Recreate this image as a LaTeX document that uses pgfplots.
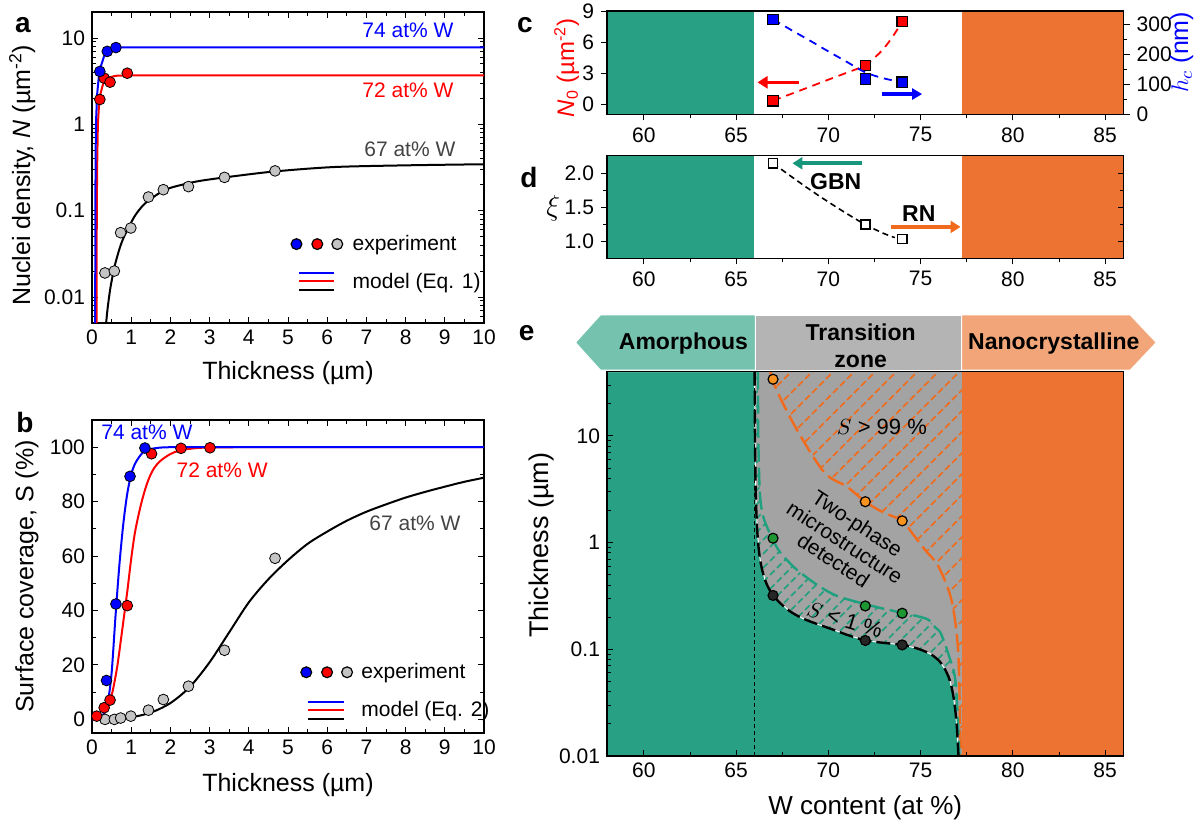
\documentclass[border=0pt]{standalone}
\usepackage{fontspec}
\setmainfont{Liberation Sans}
\usepackage{pgfplots}
\pgfplotsset{compat=1.18}
\usetikzlibrary{arrows.meta,patterns}

\definecolor{bandgreen}{HTML}{28A084}
\definecolor{bandorange}{HTML}{EC7332}
\definecolor{hdrgreen}{HTML}{75C3AE}
\definecolor{hdrgray}{HTML}{B4B4B4}
\definecolor{hdrorange}{HTML}{F2A578}
\definecolor{zonegray}{HTML}{A3A3A3}
\definecolor{mgray}{HTML}{C4C4C4}
\definecolor{labgray}{HTML}{444444}
\definecolor{hatchgreen}{HTML}{1FA07E}
\definecolor{hatchorange}{HTML}{F26A1B}
\definecolor{ptgreen}{HTML}{1E9632}
\definecolor{ptorange}{HTML}{F7931E}
\definecolor{arrgreen}{HTML}{16967A}

% dashed diagonal hatching
\pgfdeclarepatternformonly{hatchwide}{\pgfqpoint{-1pt}{-1pt}}{\pgfqpoint{12pt}{12pt}}{\pgfqpoint{10.5pt}{10.5pt}}{%
  \pgfsetlinewidth{0.8pt}%
  \pgfpathmoveto{\pgfqpoint{0pt}{0pt}}\pgfpathlineto{\pgfqpoint{2.4pt}{2.4pt}}%
  \pgfpathmoveto{\pgfqpoint{3.5pt}{3.5pt}}\pgfpathlineto{\pgfqpoint{5.9pt}{5.9pt}}%
  \pgfpathmoveto{\pgfqpoint{7pt}{7pt}}\pgfpathlineto{\pgfqpoint{9.4pt}{9.4pt}}%
  \pgfusepath{stroke}}
\pgfdeclarepatternformonly{hatchnarrow}{\pgfqpoint{-1pt}{-1pt}}{\pgfqpoint{8pt}{8pt}}{\pgfqpoint{7pt}{7pt}}{%
  \pgfsetlinewidth{0.8pt}%
  \pgfpathmoveto{\pgfqpoint{0pt}{0pt}}\pgfpathlineto{\pgfqpoint{2.3pt}{2.3pt}}%
  \pgfpathmoveto{\pgfqpoint{3.5pt}{3.5pt}}\pgfpathlineto{\pgfqpoint{5.8pt}{5.8pt}}%
  \pgfusepath{stroke}}

\pgfplotsset{
  base/.style={scale only axis, anchor=south west,
    axis line style={line width=0.6pt},
    every tick/.style={black, line width=0.5pt},
    major tick length=3pt, minor tick length=1.8pt,
    /pgf/number format/assume math mode=true,
    tick label style={font=\fontsize{10.5}{12}\selectfont},
    xlabel style={font=\fontsize{12.5}{14}\selectfont},
    ylabel style={font=\fontsize{12.5}{14}\selectfont}},
  strip/.style={base, at={(303.5pt,#1)}, width=258.3pt, xmin=58, xmax=86,
    xlabel style={font=\fontsize{13}{14}\selectfont},
    ylabel style={font=\fontsize{13.5}{14}\selectfont}},
  expt/.style={only marks, mark=*, mark size=2.7pt, mark options={draw=black, line width=0.6pt}},
}

\begin{document}
\begin{tikzpicture}[x=1pt,y=1pt]
\path[use as bounding box] (0pt,0pt) rectangle (601.5pt,413.5pt);

% ---------------- panel a
\begin{axis}[base, at={(46pt,252pt)}, width=196pt, height=155.5pt,
  xmin=0, xmax=10, ymode=log, ymin=0.005, ymax=20,
  xtick={0,...,10}, minor x tick num=1,
  ytick={0.01,0.1,1,10}, yticklabels={0.01,0.1,1,10},
  minor ytick={0.006,0.007,0.008,0.009,0.02,0.03,0.04,0.05,0.06,0.07,0.08,0.09,0.2,0.3,0.4,0.5,0.6,0.7,0.8,0.9,2,3,4,5,6,7,8,9,20},
  xlabel={Thickness (µm)},
  ylabel={Nuclei density, \textit{N} (µm\textsuperscript{-2})},
  xlabel style={at={(axis description cs:0.5,-0.16)}, anchor=center},
  ylabel style={at={(axis description cs:-0.178,0.475)}, anchor=center},
  legend style={draw=none, fill=none, font=\fontsize{10.5}{12}\selectfont,
    at={(0.49,0.31)}, anchor=north west, row sep=6pt},
  legend cell align=left]
\addplot[black, line width=1pt, smooth, forget plot] coordinates {
  (0.36,0.005) (0.4,0.0075) (0.46,0.012) (0.52,0.017) (0.59,0.024) (0.7,0.036)
  (0.8,0.048) (0.95,0.066) (1.1,0.088) (1.3,0.115) (1.5,0.137) (1.87,0.175)
  (2.3,0.2) (2.77,0.222) (3.6,0.25) (4.67,0.285) (6.16,0.32) (8,0.335) (10,0.345)};
\addplot[red, line width=1pt, forget plot] coordinates {
  (0.115,0.005) (0.12,0.05) (0.13,0.3) (0.15,1.0) (0.18,1.7) (0.22,2.3)
  (0.28,2.9) (0.35,3.3) (0.45,3.5) (0.6,3.65) (1,3.7) (10,3.7)};
\addplot[blue, line width=1pt, forget plot] coordinates {
  (0.08,0.005) (0.085,0.05) (0.09,0.3) (0.1,1) (0.13,2.2) (0.17,3.4) (0.22,4.6)
  (0.3,6.0) (0.4,7.0) (0.5,7.5) (0.6,7.75) (0.8,7.8) (10,7.8)};
\addplot[expt, mark options={fill=mgray}, forget plot] coordinates {
  (0.33,0.019) (0.57,0.02) (0.73,0.0556) (0.99,0.063) (1.44,0.144) (1.82,0.175)
  (2.46,0.19) (3.38,0.243) (4.67,0.289)};
\addplot[expt, mark options={fill=red}, forget plot] coordinates {
  (0.2,1.94) (0.31,3.43) (0.46,3.08) (0.9,3.91)};
\addplot[expt, mark options={fill=blue}, forget plot] coordinates {
  (0.2,4.1) (0.39,7.0) (0.61,7.75)};
\addlegendimage{legend image code/.code={
  \draw[black, line width=0.6pt, fill=blue] (2.6pt,0pt) circle (2.7pt);
  \draw[black, line width=0.6pt, fill=red] (13pt,0pt) circle (2.7pt);
  \draw[black, line width=0.6pt, fill=mgray] (23pt,0pt) circle (2.7pt);
  \path (28.5pt,0pt);}}
\addlegendentry{experiment}
\addlegendimage{legend image code/.code={
  \draw[blue, line width=1pt] (4pt,4.5pt) -- (21.5pt,4.5pt);
  \draw[red, line width=1pt] (4pt,0.5pt) -- (21.5pt,0.5pt);
  \draw[black, line width=1pt] (4pt,-4pt) -- (21.5pt,-4pt);
  \path (28.5pt,0pt);}}
\addlegendentry{model (Eq. 1)}
\node[blue, font=\fontsize{10.5}{12}\selectfont] at (axis cs:8.06,12.3) {74 at\% W};
\node[red, font=\fontsize{10.5}{12}\selectfont] at (axis cs:8.06,2.48) {72 at\% W};
\node[labgray, font=\fontsize{10.5}{12}\selectfont] at (axis cs:8.11,0.51) {67 at\% W};
\end{axis}

% ---------------- panel b
\begin{axis}[base, at={(46pt,47pt)}, width=196pt, height=156.5pt,
  xmin=0, xmax=10, ymin=-5, ymax=110,
  xtick={0,...,10}, minor x tick num=1,
  ytick={0,20,...,100}, minor y tick num=1,
  xlabel={Thickness (µm)},
  ylabel={Surface coverage, S (\%)},
  xlabel style={at={(axis description cs:0.5,-0.166)}, anchor=center},
  ylabel style={at={(axis description cs:-0.166,0.5)}, anchor=center},
  legend style={draw=none, fill=none, font=\fontsize{10.5}{12}\selectfont,
    at={(0.515,0.25)}, anchor=north west, row sep=6pt},
  legend cell align=left]
\addplot[black, line width=1pt, smooth, forget plot] coordinates {
  (0,0) (0.5,0.2) (1,0.8) (1.5,2.5) (2,6) (2.5,12) (3,21) (3.5,32) (4,43)
  (4.5,51.5) (5,58.5) (5.5,64.5) (6,69) (6.5,73) (7,76.3) (7.5,79) (8,81.5)
  (8.5,83.6) (9,85.5) (9.5,87.3) (10,88.8)};
\addplot[red, line width=1pt, smooth, forget plot] coordinates {
  (0,0) (0.2,0.5) (0.35,3) (0.45,6) (0.55,12) (0.65,20) (0.76,31.7) (0.9,47)
  (1.0,59) (1.1,69) (1.25,79) (1.4,86.5) (1.55,91.5) (1.73,94.8) (2.0,97.5)
  (2.24,98.8) (2.6,99.6) (3,99.9) (4,100) (10,100)};
\addplot[blue, line width=1pt, smooth, forget plot] coordinates {
  (0,0) (0.2,0.3) (0.3,2) (0.4,6) (0.5,17) (0.6,38) (0.7,57) (0.8,72) (0.9,83)
  (1.0,90) (1.1,94) (1.25,97.3) (1.4,99) (1.7,99.8) (2,100) (3,100) (10,100)};
\addplot[expt, mark options={fill=mgray}, forget plot] coordinates {
  (0.33,0) (0.57,0) (0.73,0.5) (0.99,1.2) (1.44,3.4) (1.82,7.3) (2.46,12.2)
  (3.38,25.4) (4.67,59.2)};
\addplot[expt, mark options={fill=red}, forget plot] coordinates {
  (0.12,1.2) (0.31,4.3) (0.46,7.1) (0.9,41.8) (1.52,97.6) (2.27,99.6) (3.01,99.8)};
\addplot[expt, mark options={fill=blue}, forget plot] coordinates {
  (0.37,14.3) (0.61,42.4) (0.97,89.3) (1.35,99.7)};
\addlegendimage{legend image code/.code={
  \draw[black, line width=0.6pt, fill=blue] (2.6pt,0pt) circle (2.7pt);
  \draw[black, line width=0.6pt, fill=red] (13pt,0pt) circle (2.7pt);
  \draw[black, line width=0.6pt, fill=mgray] (23pt,0pt) circle (2.7pt);
  \path (28pt,0pt);}}
\addlegendentry{experiment}
\addlegendimage{legend image code/.code={
  \draw[blue, line width=1pt] (3.5pt,4pt) -- (21.5pt,4pt);
  \draw[red, line width=1pt] (3.5pt,0pt) -- (21.5pt,0pt);
  \draw[black, line width=1pt] (3.5pt,-4.5pt) -- (21.5pt,-4.5pt);
  \path (28pt,0pt);}}
\addlegendentry{model (Eq. 2)}
\node[blue, font=\fontsize{10.5}{12}\selectfont] at (axis cs:1.4,105.4) {74 at\% W};
\node[red, font=\fontsize{10.5}{12}\selectfont] at (axis cs:3.32,91.5) {72 at\% W};
\node[labgray, font=\fontsize{10.5}{12}\selectfont] at (axis cs:8.24,72.1) {67 at\% W};
\end{axis}

% ---------------- panel c (left scale)
\begin{axis}[strip=356.35pt, height=51.65pt, ymin=-1, ymax=9.05, axis on top,
  tick align=outside,
  xtick={60,65,...,85}, minor x tick num=1, xtick pos=bottom,
  ytick={0,3,6,9}, ytick pos=left,
  ylabel={\textit{N}\textsubscript{0} (µm\textsuperscript{-2})},
  ylabel style={red, font=\fontsize{12}{14}\selectfont, at={(axis description cs:-0.078,0.45)}, anchor=center}]
\addplot[fill=bandgreen, draw=none] coordinates {(58,-1) (65.95,-1) (65.95,9.05) (58,9.05)};
\addplot[fill=bandorange, draw=none] coordinates {(77.25,-1) (86,-1) (86,9.05) (77.25,9.05)};
\addplot[red, line width=0.9pt, dash pattern=on 4pt off 3pt, smooth] coordinates {
  (67,0.33) (68,1.0) (69,1.68) (70,2.37) (71,3.05) (72,3.75) (72.5,4.5) (73,5.4) (73.5,6.6) (74,8.0)};
\addplot[only marks, mark=square*, mark size=2.6pt, mark options={fill=red, draw=black, line width=0.6pt}]
  coordinates {(67,0.32) (72,3.73) (74,8.02)};
\draw[red, line width=1.8pt, -{Triangle[length=5pt,width=6pt]}] (axis cs:68.38,2.11) -- (axis cs:66.16,2.11);
\draw[blue, line width=1.6pt, -{Triangle[length=5pt,width=5.5pt]}] (axis cs:72.92,0.97) -- (axis cs:75.08,0.97);
\end{axis}
% panel c (right scale)
\begin{axis}[strip=356.35pt, height=51.65pt, ymin=0, ymax=345,
  tick align=outside,
  axis x line=none, axis y line*=right,
  ytick={0,100,200,300}, minor y tick num=1,
  ylabel={$h_c$ (nm)},
  ylabel style={blue, font=\fontsize{12.5}{14}\selectfont, at={(axis description cs:1.1125,0.6)}, anchor=center}]
\addplot[blue, line width=0.9pt, dash pattern=on 4pt off 3pt, smooth] coordinates {
  (67,317) (68,281) (69,246) (70,210) (71,175) (72,140) (73,120) (74,107)};
\addplot[only marks, mark=square*, mark size=2.6pt, mark options={fill=blue, draw=black, line width=0.6pt}]
  coordinates {(67,317) (72,118) (74,107)};
\end{axis}

% ---------------- panel d
\begin{axis}[strip=284.35pt, height=51.3pt, ymin=0.757, ymax=2.257, axis on top,
  tick align=outside,
  xtick={60,65,...,85}, minor x tick num=1, xtick pos=bottom,
  ytick={1,1.5,2}, minor y tick num=1, ytick pos=left,
  yticklabel style={/pgf/number format/.cd, fixed, fixed zerofill, precision=1},
  ylabel={$\xi$}, ylabel style={font=\fontsize{15}{15}\selectfont, at={(axis description cs:-0.104,0.487)}, anchor=center, rotate=-90}]
\addplot[fill=bandgreen, draw=none] coordinates {(58,0.7) (65.95,0.7) (65.95,2.3) (58,2.3)};
\addplot[fill=bandorange, draw=none] coordinates {(77.25,0.7) (86,0.7) (86,2.3) (77.25,2.3)};
\addplot[black, line width=0.8pt, dash pattern=on 3pt off 2pt, smooth] coordinates {
  (67,2.146) (68,1.95) (69,1.76) (70,1.58) (71,1.41) (72,1.25) (73,1.12) (73.6,1.06)};
\addplot[only marks, mark=square*, mark size=2.3pt, mark options={fill=white, draw=black, line width=0.8pt}]
  coordinates {(67,2.146) (72,1.25) (74,1.04)};
\draw[arrgreen, line width=1.8pt, -{Triangle[length=5pt,width=6pt]}] (axis cs:71.84,2.146) -- (axis cs:68.05,2.146);
\draw[hatchorange, line width=1.8pt, -{Triangle[length=5pt,width=6pt]}] (axis cs:73.37,1.216) -- (axis cs:77.16,1.216);
\node[font=\bfseries\fontsize{11.5}{12}\selectfont] at (axis cs:70.4,1.88) {GBN};
\node[font=\bfseries\fontsize{11.5}{12}\selectfont] at (axis cs:74.9,1.41) {RN};
\end{axis}
% panel d, inner ticks on the right
\begin{axis}[strip=284.35pt, height=51.3pt, ymin=0.757, ymax=2.257,
  axis x line=none, axis y line*=right,
  ytick={1,1.5,2}, minor y tick num=1, yticklabels={}]
\end{axis}

% ---------------- panel e
\begin{axis}[strip=35.5pt, height=192.15pt,
  ymode=log, ymin=0.01, ymax=40, axis on top, clip=false,
  xtick={60,65,...,85}, minor x tick num=1, xtick pos=bottom,
  ytick={0.01,0.1,1,10}, yticklabels={0.01,0.1,1,10}, ytick pos=left,
  minor ytick={0.02,0.03,0.04,0.05,0.06,0.07,0.08,0.09,0.2,0.3,0.4,0.5,0.6,0.7,0.8,0.9,2,3,4,5,6,7,8,9,20,30,40},
  xlabel={W content (at \%)}, ylabel={Thickness (µm)},
  xlabel style={at={(axis description cs:0.5,-0.135)}, anchor=center},
  ylabel style={at={(axis description cs:-0.126,0.549)}, anchor=center}]
\addplot[fill=zonegray, draw=none] coordinates {(66,0.01) (77.25,0.01) (77.25,40) (66,40)};
\addplot[fill=bandorange, draw=none] coordinates {(77.25,0.01) (86,0.01) (86,40) (77.25,40)};
% amorphous region below the onset curve
\addplot[fill=bandgreen, draw=white, line width=0.5pt] coordinates {
  (58,0.01) (58,40) (66,40) (66.02,10) (66.06,3) (66.15,1.23) (66.3,0.69) (66.56,0.45)
  (67,0.32) (67.8,0.235) (68.6,0.195) (69.5,0.17) (70.3,0.152) (71,0.137) (72,0.121)
  (73,0.115) (74,0.11) (74.8,0.102) (75.5,0.091) (76,0.078) (76.3,0.066) (76.6,0.05)
  (76.8,0.034) (76.95,0.02) (77.05,0.01)};
% S > 99 % hatched area
\addplot[pattern=hatchwide, pattern color=hatchorange, draw=none] coordinates {
  (66.86,40) (66.95,34) (67.45,21.7) (68.4,10.6) (69.8,4.5) (71,3.35) (72,2.42)
  (72.9,1.95) (74,1.6) (74.55,1.22) (75.25,0.85) (75.96,0.6) (76.67,0.29)
  (77.03,0.098) (77.15,0.016) (77.2,0.01) (77.25,0.01) (77.25,40)};
% S < 1 % hatched area
\addplot[pattern=hatchnarrow, pattern color=hatchgreen, draw=none] coordinates {
  (66.18,40) (66.2,10) (66.28,3) (66.45,1.8) (66.8,1.25) (67.3,0.85) (68,0.62)
  (68.5,0.52) (69.5,0.39) (70.5,0.315) (72,0.265) (73,0.24) (74,0.22) (74.8,0.205)
  (75.4,0.19) (75.8,0.16) (76.1,0.14) (76.55,0.085) (76.9,0.048) (77.1,0.01)
  (77.05,0.01) (76.95,0.02) (76.8,0.034) (76.6,0.05) (76.3,0.066) (76,0.078)
  (75.5,0.091) (74.8,0.102) (74,0.11) (73,0.115) (72,0.121) (71,0.137) (70.3,0.152)
  (69.5,0.17) (68.6,0.195) (67.8,0.235) (67,0.32) (66.56,0.45) (66.3,0.69)
  (66.15,1.23) (66.06,3) (66.02,10) (66,40)};
\addplot[black, line width=0.4pt, dash pattern=on 2pt off 1.5pt] coordinates {(66,0.01) (66,40)};
\addplot[hatchorange, line width=1.2pt, dash pattern=on 9pt off 3pt, smooth] coordinates {
  (66.86,40) (66.95,34) (67.45,21.7) (68.4,10.6) (69.8,4.5) (71,3.35) (72,2.42)
  (72.9,1.95) (74,1.6) (74.55,1.22) (75.25,0.85) (75.96,0.6) (76.67,0.29)
  (77.03,0.098) (77.15,0.016) (77.2,0.01)};
\addplot[hatchgreen, line width=1.2pt, dash pattern=on 9pt off 3pt, smooth] coordinates {
  (66.18,40) (66.2,10) (66.28,3) (66.45,1.8) (66.8,1.25) (67.3,0.85) (68,0.62)
  (68.5,0.52) (69.5,0.39) (70.5,0.315) (72,0.265) (73,0.24) (74,0.22) (74.8,0.205)
  (75.4,0.19) (75.8,0.16) (76.1,0.14) (76.55,0.085) (76.9,0.048) (77.1,0.01)};
\addplot[black, line width=1.2pt, dash pattern=on 7pt off 2.5pt, smooth] coordinates {
  (66,40) (66.02,10) (66.06,3) (66.15,1.23) (66.3,0.69) (66.56,0.45)
  (67,0.32) (67.8,0.235) (68.6,0.195) (69.5,0.17) (70.3,0.152) (71,0.137) (72,0.121)
  (73,0.115) (74,0.11) (74.8,0.102) (75.5,0.091) (76,0.078) (76.3,0.066) (76.6,0.05)
  (76.8,0.034) (76.95,0.02) (77.05,0.01)};
\addplot[only marks, mark=*, mark size=2.5pt, mark options={fill=ptorange, draw=black, line width=0.6pt}]
  coordinates {(67,34) (72,2.42) (74,1.6)};
\addplot[only marks, mark=*, mark size=2.5pt, mark options={fill=ptgreen, draw=black, line width=0.6pt}]
  coordinates {(67,1.1) (72,0.255) (74,0.218)};
\addplot[only marks, mark=*, mark size=2.5pt, mark options={fill=black!85, draw=black, line width=0.6pt}]
  coordinates {(67,0.32) (72,0.121) (74,0.11)};
\node[font=\fontsize{11}{12}\selectfont] at (axis cs:72.9,12.2) {$S$ > 99 \%};
\node[font=\fontsize{11}{12}\selectfont, rotate=-17] at (axis cs:70.9,0.19) {$S$ < 1 \%};
\node[font=\fontsize{10.5}{12}\selectfont, xshift=5.7pt, yshift=8.8pt, rotate=-33] at (axis cs:70.9,1.0) {Two-phase};
\node[font=\fontsize{10.5}{12}\selectfont, rotate=-33] at (axis cs:70.9,1.0) {microstructure};
\node[font=\fontsize{10.5}{12}\selectfont, xshift=-5.7pt, yshift=-8.8pt, rotate=-33] at (axis cs:70.9,1.0) {detected};
% header
\fill[hdrgreen, draw=white, line width=0.4pt] (rel axis cs:-0.0608,1.076) -- (rel axis cs:-0.0127,1.1475)
  -- (rel axis cs:0.2868,1.1475) -- (rel axis cs:0.2868,1.0044) -- (rel axis cs:-0.0127,1.0044) -- cycle;
\fill[hdrgray, draw=white, line width=0.4pt] (rel axis cs:0.2868,1.0044) rectangle (rel axis cs:0.6868,1.1475);
\fill[hdrorange, draw=white, line width=0.4pt] (rel axis cs:0.6868,1.0044) -- (rel axis cs:0.6868,1.1475)
  -- (rel axis cs:1.0127,1.1475) -- (rel axis cs:1.063,1.076) -- (rel axis cs:1.0127,1.0044) -- cycle;
\node[font=\bfseries\fontsize{11.5}{12}\selectfont] at (rel axis cs:0.148,1.074) {Amorphous};
\node[font=\bfseries\fontsize{11.5}{13.5}\selectfont, align=center] at (rel axis cs:0.491,1.067) {Transition\\zone};
\node[font=\bfseries\fontsize{11.5}{12}\selectfont] at (rel axis cs:0.865,1.074) {Nanocrystalline};
\end{axis}

% panel letters
\node[font=\bfseries\fontsize{14}{16}\selectfont] at (11.5pt,401pt) {a};
\node[font=\bfseries\fontsize{14}{16}\selectfont] at (12.5pt,202.5pt) {b};
\node[font=\bfseries\fontsize{14}{16}\selectfont] at (262.5pt,401pt) {c};
\node[font=\bfseries\fontsize{14}{16}\selectfont] at (264.5pt,325pt) {d};
\node[font=\bfseries\fontsize{14}{16}\selectfont] at (263.3pt,247pt) {e};
\end{tikzpicture}
\end{document}
